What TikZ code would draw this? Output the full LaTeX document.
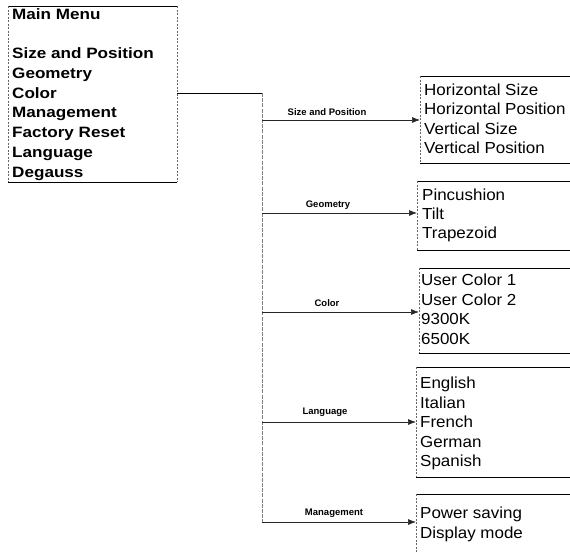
\documentclass[tikz,border=0pt]{standalone}
\usepackage{fontspec}
\setmainfont{Liberation Sans}
\newfontfamily\itemfont{Liberation Sans}[FakeStretch=1.06]
\newfontfamily\menufont{Liberation Sans}[FakeStretch=1.14]
\newfontfamily\labfont{Liberation Sans}
\usetikzlibrary{arrows.meta}
\begin{document}
\begin{tikzpicture}[x=1pt,y=-1pt,
  edge/.style={line width=0.8pt},
  side/.style={line width=0.6pt, dash pattern=on 2pt off 1.5pt, black!60},
  trunk/.style={line width=0.8pt, dash pattern=on 4pt off 1.2pt, black!50},
  arr/.style={line width=0.7pt, black!85, -{Latex[length=8pt,width=6pt]}},
  menuitem/.style={anchor=base west, inner sep=0pt, font=\menufont\bfseries\fontsize{15}{18}\selectfont},
  item/.style={anchor=base west, inner sep=0pt, font=\itemfont\fontsize{16}{19}\selectfont},
  lab/.style={inner sep=0pt, font=\labfont\bfseries\fontsize{9.5}{11}\selectfont},
  frame/.style={inner sep=0pt, outer sep=0pt, anchor=north west}]

\useasboundingbox[fill=white] (0,0) rectangle (570,552);

% ---------- main menu ----------
\node[frame, minimum width=169pt, minimum height=176pt] (mm) at (8,6) {};
\draw[edge] (mm.north west) -- (mm.north east);
\draw[edge] (mm.south west) -- (mm.south east);
\draw[side] (mm.north west) -- (mm.south west);
\draw[side] (mm.north east) -- (mm.south east);

\node[menuitem] (m0) at (12,19.4)  {Main Menu};
\node[menuitem] (m1) at (12,58.4)  {Size and Position};
\node[menuitem] (m2) at (12,78.2)  {Geometry};
\node[menuitem] (m3) at (12,98.0)  {Color};
\node[menuitem] (m4) at (12,117.8) {Management};
\node[menuitem] (m5) at (12,137.6) {Factory Reset};
\node[menuitem] (m6) at (12,157.4) {Language};
\node[menuitem] (m7) at (12,177.2) {Degauss};

% ---------- sub menus ----------
\node[frame, minimum width=150pt, minimum height=87pt]  (b1) at (420,76)  {};
\node[frame, minimum width=153pt, minimum height=69pt]  (b2) at (417,181) {};
\node[frame, minimum width=151pt, minimum height=85pt]  (b3) at (419,268) {};
\node[frame, minimum width=154pt, minimum height=110pt] (b4) at (416,367) {};
\node[frame, minimum width=154pt, minimum height=58pt]  (b5) at (416,494) {};

\foreach \b in {b1,b2,b3,b4}{
  \draw[edge] (\b.north west) -- (\b.north east);
  \draw[edge] (\b.south west) -- (\b.south east);
  \draw[side] (\b.north west) -- (\b.south west);
}
\draw[edge] (b5.north west) -- (b5.north east);
\draw[side] (b5.north west) -- (b5.south west);

\node[item] (s1) at (424,95.5)  {Horizontal Size};
\node[item] (s2) at (424,114.7) {Horizontal Position};
\node[item] (s3) at (424,134.2) {Vertical Size};
\node[item] (s4) at (424,153.4) {Vertical Position};

\node[item] (g1) at (422,200.5) {Pincushion};
\node[item] (g2) at (422,219.5) {Tilt};
\node[item] (g3) at (422,238.5) {Trapezoid};

\node[item] (c1) at (421,285.7) {User Color 1};
\node[item] (c2) at (421,305.0) {User Color 2};
\node[item] (c3) at (421,324.5) {9300K};
\node[item] (c4) at (421,344.0) {6500K};

\node[item] (e1) at (420,388.7) {English};
\node[item] (e2) at (420,408.0) {Italian};
\node[item] (e3) at (420,427.5) {French};
\node[item] (e4) at (420,447.0) {German};
\node[item] (e5) at (420,466.3) {Spanish};

\node[item] (p1) at (420,518.7) {Power saving};
\node[item] (p2) at (420,538.0) {Display mode};

% ---------- connectors ----------
\coordinate (j)  at (262,93);
\coordinate (t1) at (262,120);
\coordinate (t2) at (262,213);
\coordinate (t3) at (262,312);
\coordinate (t4) at (262,422);
\coordinate (t5) at (262,522);

\draw[edge] (mm.east |- j) -- (j);
\draw[trunk] (j) -- (t5);

\draw[arr] (t1) -- (b1.west |- t1);
\draw[arr] (t2) -- (b2.west |- t2);
\draw[arr] (t3) -- (b3.west |- t3);
\draw[arr] (t4) -- (b4.west |- t4);
\draw[arr] (t5) -- (b5.west |- t5);

\node[lab] (l1) at (327,112) {Size and Position};
\node[lab] (l2) at (328,205) {Geometry};
\node[lab] (l3) at (327,303) {Color};
\node[lab] (l4) at (325,412) {Language};
\node[lab] (l5) at (334,513) {Management};
\end{tikzpicture}
\end{document}
